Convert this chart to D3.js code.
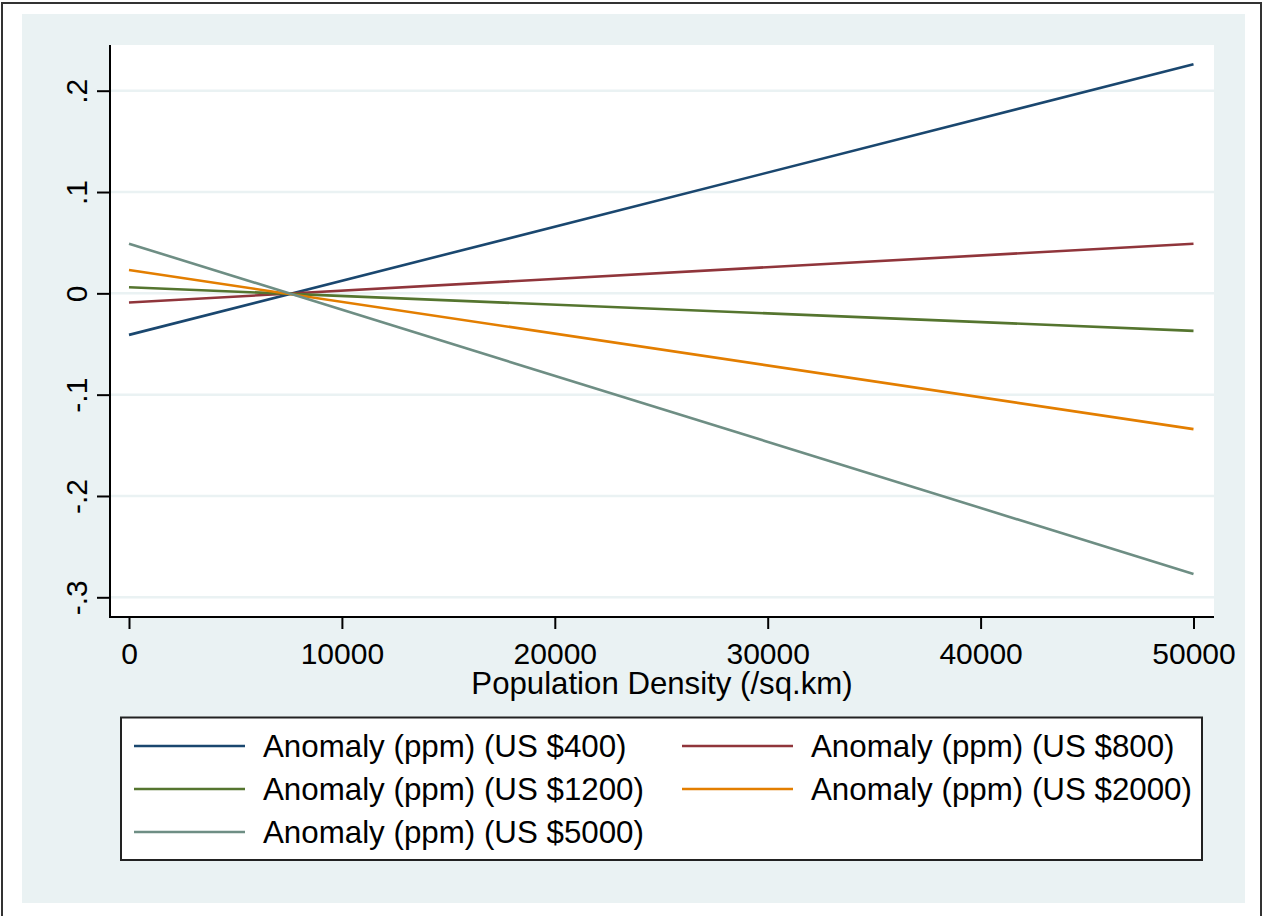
<!DOCTYPE html>
<html>
<head>
<meta charset="utf-8">
<script src="https://cdn.jsdelivr.net/npm/d3@7"></script>
<style>
  body { margin: 0; background: #fff; }
  text { font-family: Arial, "Liberation Sans", sans-serif; fill: #000; }
</style>
</head>
<body>
<div id="chart"></div>
<script>
// data
var density = [0, 50000];
var us400  = [-0.041, 0.226];
var us800  = [-0.009, 0.049];
var us1200 = [0.006, -0.037];
var us2000 = [0.023, -0.134];
var us5000 = [0.049, -0.277];

var seriesNames = ["Anomaly (ppm) (US $400)", "Anomaly (ppm) (US $800)", "Anomaly (ppm) (US $1200)",
                   "Anomaly (ppm) (US $2000)", "Anomaly (ppm) (US $5000)"];
var seriesValues = [us400, us800, us1200, us2000, us5000];
var colors = ["#1a476f", "#90353b", "#55752f", "#e37e00", "#6e8e84"];

var xTicks = [0, 10000, 20000, 30000, 40000, 50000];
var yTicks = [0.2, 0.1, 0, -0.1, -0.2, -0.3];
var yTickLabels = [".2", ".1", "0", "-.1", "-.2", "-.3"];
var xTitle = "Population Density (/sq.km)";

var W = 1265, H = 916;
var plot = {left: 110, right: 1214, top: 45, bottom: 617};
var bg = "#eaf2f3";

var svg = d3.select("#chart").append("svg")
    .attr("width", W)
    .attr("height", H);

// outer frame + graph region
svg.append("rect")
    .attr("x", 2).attr("y", 3)
    .attr("width", 1259).attr("height", 960)
    .attr("fill", "#fff")
    .attr("stroke", "#333")
    .attr("stroke-width", 2);

svg.append("rect")
    .attr("x", 22).attr("y", 14)
    .attr("width", 1223).attr("height", 889)
    .attr("fill", bg);

// plot region
svg.append("rect")
    .attr("x", plot.left).attr("y", plot.top)
    .attr("width", plot.right - plot.left)
    .attr("height", plot.bottom - plot.top)
    .attr("fill", "#fff");

var x = d3.scaleLinear().domain([0, 50000]).range([129, 1193.5]);
var y = d3.scaleLinear().domain([-0.3, 0.2]).range([597.3, 90.7]);

// gridlines
svg.append("g")
    .selectAll("line")
    .data(yTicks)
    .enter()
    .append("line")
    .attr("x1", plot.left)
    .attr("x2", plot.right)
    .attr("y1", function(d) { return y(d); })
    .attr("y2", function(d) { return y(d); })
    .attr("stroke", bg)
    .attr("stroke-width", 2.5);

// lines
var line = d3.line()
    .x(function(d) { return x(d[0]); })
    .y(function(d) { return y(d[1]); });

svg.append("g")
    .selectAll("path")
    .data(seriesValues)
    .enter()
    .append("path")
    .attr("fill", "none")
    .attr("stroke", function(d, i) { return colors[i]; })
    .attr("stroke-width", 2.6)
    .attr("d", function(vals) { return line(density.map(function(xv, j) { return [xv, vals[j]]; })); });

// y axis
var yAxis = svg.append("g")
    .attr("transform", "translate(" + plot.left + ",0)")
    .call(d3.axisLeft(y)
        .tickValues(yTicks)
        .tickSize(13)
        .tickFormat(function(d, i) { return yTickLabels[i]; }));
yAxis.select(".domain").remove();
yAxis.selectAll(".tick line").attr("stroke", "#000").attr("stroke-width", 2);
yAxis.selectAll(".tick text")
    .attr("x", 0).attr("dy", null)
    .attr("text-anchor", "middle")
    .attr("transform", "translate(-23,0) rotate(-90)")
    .style("font-size", "30px")
    .attr("fill", "#000");

// x axis
var xAxis = svg.append("g")
    .attr("transform", "translate(0," + plot.bottom + ")")
    .call(d3.axisBottom(x)
        .tickValues(xTicks)
        .tickSize(12)
        .tickFormat(d3.format("d")));
xAxis.select(".domain").remove();
xAxis.selectAll(".tick line").attr("stroke", "#000").attr("stroke-width", 2);
xAxis.selectAll(".tick text")
    .attr("y", 47).attr("dy", null)
    .style("font-size", "30px")
    .attr("fill", "#000");

// axis lines
svg.append("line")
    .attr("x1", plot.left).attr("x2", plot.left)
    .attr("y1", plot.top).attr("y2", plot.bottom + 1)
    .attr("stroke", "#000").attr("stroke-width", 2);
svg.append("line")
    .attr("x1", plot.left - 1).attr("x2", plot.right)
    .attr("y1", plot.bottom).attr("y2", plot.bottom)
    .attr("stroke", "#000").attr("stroke-width", 2);

// axis title
svg.append("text")
    .attr("x", (plot.left + plot.right) / 2)
    .attr("y", 694)
    .attr("text-anchor", "middle")
    .style("font-size", "31.2px")
    .text(xTitle);

// legend
var legend = svg.append("g");
legend.append("rect")
    .attr("x", 121).attr("y", 717.5)
    .attr("width", 1081).attr("height", 142.5)
    .attr("fill", "#fff")
    .attr("stroke", "#222")
    .attr("stroke-width", 2);

var colX = [134, 682];
var rowY = [746, 789, 832];

var items = legend.selectAll("g.item")
    .data(seriesNames)
    .enter()
    .append("g")
    .attr("class", "item")
    .attr("transform", function(d, i) {
        return "translate(" + colX[i % 2] + "," + rowY[Math.floor(i / 2)] + ")";
    });

items.append("line")
    .attr("x1", 0).attr("x2", 111)
    .attr("y1", 0).attr("y2", 0)
    .attr("stroke", function(d, i) { return colors[i]; })
    .attr("stroke-width", 2.6);

items.append("text")
    .attr("x", 129)
    .attr("y", 11)
    .style("font-size", "31.3px")
    .text(function(d) { return d; });
</script>
</body>
</html>
